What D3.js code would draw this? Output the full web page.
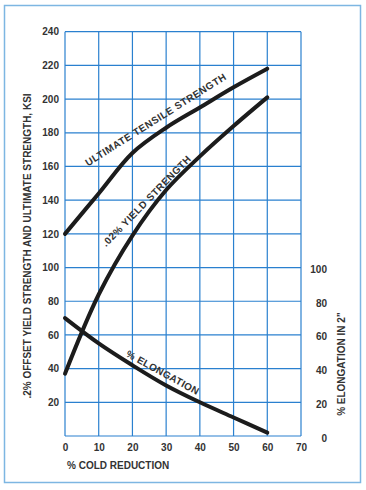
<!DOCTYPE html>
<html>
<head>
<meta charset="utf-8">
<script src="https://cdn.jsdelivr.net/npm/d3@7"></script>
<style>
  html, body { margin: 0; padding: 0; background: #fff; }
  svg { display: block; font-family: "Liberation Sans", Arial, sans-serif; }
  .tick text { font-size: 10px; font-weight: bold; fill: #333; }
</style>
</head>
<body>
<div id="chart"></div>
<script>
const width = 366;
const height = 490;

// % cold reduction
const coldReduction = [0, 10, 20, 30, 40, 50, 60];
// ksi
const tensileStrength = [120, 144, 168, 183, 195, 207, 218];
const yieldStrength = [37, 84, 119, 146, 166, 184, 201];
// % elongation in 2"
const elongation = [70, 55, 42, 30, 20, 11, 2];

const xTicks = [0, 10, 20, 30, 40, 50, 60, 70];
const yTicks = [20, 40, 60, 80, 100, 120, 140, 160, 180, 200, 220, 240];
const yRightTicks = [0, 20, 40, 60, 80, 100];

// curve label baselines, in data units [cold reduction, value]
const utsLabelAt = [[6.8, 160], [48, 212]];
const ysLabelAt = [[12.2, 112], [37.5, 164]];
const elLabelAt = [[17.9, 47.5], [39, 24.3]];

const margin = { top: 31.7, right: 65, bottom: 54, left: 65 };

let svg = d3.select("#chart").append("svg")
    .attr("width", width)
    .attr("height", height);

// outer frame
svg.append("rect")
    .attr("x", 4.5).attr("y", 5.5)
    .attr("width", 356).attr("height", 477)
    .attr("fill", "none")
    .attr("stroke", "#7db6e2")
    .attr("stroke-width", 1.5);

let x = d3.scaleLinear()
    .domain([0, 70])
    .range([margin.left, width - margin.right]);
let y = d3.scaleLinear()
    .domain([0, 240])
    .range([height - margin.bottom, margin.top]);
let yR = d3.scaleLinear()
    .domain([0, 100])
    .range([y(0), y(100)]);

// grid
let grid = svg.append("g").attr("stroke", "#2a80cf").attr("stroke-width", 1.2);
grid.selectAll(".vline")
    .data(xTicks)
    .enter()
    .append("line")
    .attr("x1", d => x(d)).attr("x2", d => x(d))
    .attr("y1", y(0)).attr("y2", y(240));
grid.selectAll(".hline")
    .data([0].concat(yTicks))
    .enter()
    .append("line")
    .attr("x1", x(0)).attr("x2", x(70))
    .attr("y1", d => y(d)).attr("y2", d => y(d));

// axes (labels only)
let xAxis = svg.append("g")
    .attr("transform", `translate(0,${y(0) + 2})`)
    .call(d3.axisBottom(x).tickValues(xTicks).tickSize(0).tickPadding(6));
let yAxis = svg.append("g")
    .attr("transform", `translate(${x(0) - 5},0)`)
    .call(d3.axisLeft(y).tickValues(yTicks).tickSize(0).tickPadding(1));
let yAxisR = svg.append("g")
    .attr("transform", `translate(${x(70) + 26},0)`)
    .call(d3.axisLeft(yR).tickValues(yRightTicks).tickSize(0).tickPadding(0));
[xAxis, yAxis, yAxisR].forEach(a => a.select(".domain").remove());
yAxisR.selectAll("text").attr("dy", "0.5em");

// axis titles
svg.append("text")
    .attr("x", 67).attr("y", 469)
    .attr("font-size", 10).attr("font-weight", "bold").attr("fill", "#333")
    .text("% COLD REDUCTION");
svg.append("text")
    .attr("transform", `translate(31,246) rotate(-90)`)
    .attr("text-anchor", "middle")
    .attr("font-size", 10).attr("font-weight", "bold").attr("fill", "#333")
    .text(".2% OFFSET YIELD STRENGTH AND ULTIMATE STRENGTH, KSI");
svg.append("text")
    .attr("transform", `translate(344.5,364) rotate(-90)`)
    .attr("text-anchor", "middle")
    .attr("font-size", 10).attr("font-weight", "bold").attr("fill", "#333")
    .text("% ELONGATION IN 2\u201D");

// curves
const series = [
    { id: "uts", values: tensileStrength, scale: y, label: "ULTIMATE TENSILE STRENGTH", at: utsLabelAt },
    { id: "ys", values: yieldStrength, scale: y, label: ".02% YIELD STRENGTH", at: ysLabelAt },
    { id: "el", values: elongation, scale: yR, label: "% ELONGATION", at: elLabelAt }
];

let defs = svg.append("defs");

series.forEach(s => {
    let line = d3.line()
        .x((d, i) => x(coldReduction[i]))
        .y(d => s.scale(d))
        .curve(d3.curveCatmullRom.alpha(0.5));
    svg.append("path")
        .attr("d", line(s.values))
        .attr("fill", "none")
        .attr("stroke", "#1c1c1c")
        .attr("stroke-width", 4)
        .attr("stroke-linecap", "round");

    let labelPath = defs.append("path")
        .attr("id", "label-" + s.id)
        .attr("d", d3.line().x(d => x(d[0])).y(d => s.scale(d[1]))(s.at));
    let pathLen = labelPath.node().getTotalLength();

    let t = svg.append("text")
        .attr("font-size", 10)
        .attr("font-weight", "bold")
        .attr("fill", "#333");
    let tp = t.append("textPath")
        .attr("href", "#label-" + s.id)
        .text(s.label);
    // spread the letters so the label fills its baseline like the original
    let len = t.node().getComputedTextLength();
    t.attr("letter-spacing", Math.max(0, (pathLen - len) / (s.label.length - 1)));
});
</script>
</body>
</html>
